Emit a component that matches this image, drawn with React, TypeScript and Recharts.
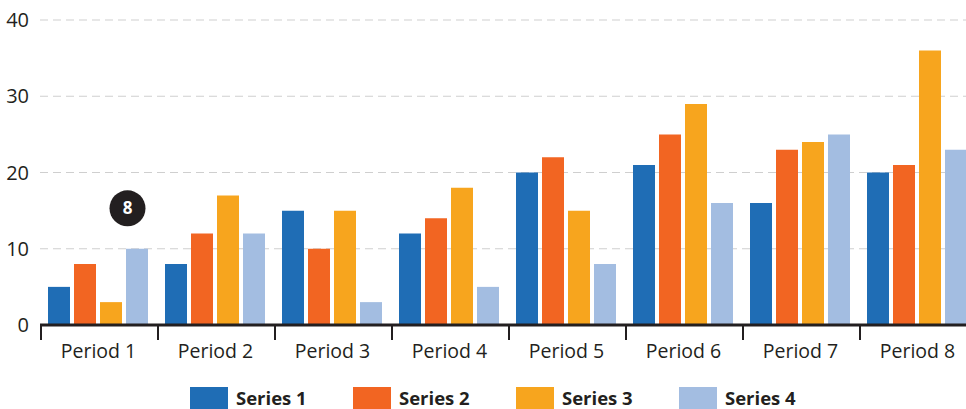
import React from "react";
import {
  BarChart,
  Bar,
  XAxis,
  YAxis,
  CartesianGrid,
  ReferenceDot,
} from "recharts";

const categories = [
  "Period 1",
  "Period 2",
  "Period 3",
  "Period 4",
  "Period 5",
  "Period 6",
  "Period 7",
  "Period 8",
];
const series1 = [5, 8, 15, 12, 20, 21, 16, 20];
const series2 = [8, 12, 10, 14, 22, 25, 23, 21];
const series3 = [3, 17, 15, 18, 15, 29, 24, 36];
const series4 = [10, 12, 3, 5, 8, 16, 25, 23];
const seriesNames = ["Series 1", "Series 2", "Series 3", "Series 4"];
const yTicks = [0, 10, 20, 30, 40];

// marker bubble over Period 1
const markerCategory = "Period 1";
const markerValue = 15.3;
const markerText = "8";

const COLORS = ["#1f6db5", "#f26522", "#f7a51e", "#a3bde1"];
const INK = "#231f20";
const FONT = "'Open Sans', sans-serif";

const CHART_W = 976;
const Y_W = 40;
const HALF_CAT = (CHART_W - Y_W) / categories.length / 2;

const data = categories.map((name, i) => ({
  name,
  s1: series1[i],
  s2: series2[i],
  s3: series3[i],
  s4: series4[i],
}));
const keys = ["s1", "s2", "s3", "s4"];

function PeriodTick(props: any) {
  const { x, y, payload } = props;
  return (
    <g>
      <line x1={x - HALF_CAT + 1} x2={x - HALF_CAT + 1} y1={y} y2={y + 15} stroke={INK} strokeWidth={2} />
      <text x={x} y={y + 33} textAnchor="middle" fontSize={19.5} fill={INK} fontFamily={FONT}>
        {payload.value}
      </text>
    </g>
  );
}

function MarkerBubble(props: any) {
  const { cx, cy } = props;
  const x = cx + 29;
  return (
    <g>
      <circle cx={x} cy={cy} r={18} fill={INK} />
      <text x={x} y={cy + 6} textAnchor="middle" fontSize={17} fontWeight="bold" fill="#fff" fontFamily={FONT}>
        {markerText}
      </text>
    </g>
  );
}

export default function App() {
  return (
    <div
      style={{
        position: "absolute",
        left: 0,
        top: 0,
        width: 966,
        height: 409,
        overflow: "hidden",
        background: "#fff",
      }}
    >
      <BarChart
        width={CHART_W}
        height={409}
        data={data}
        margin={{ top: 20, right: 0, left: 0, bottom: 54 }}
        barCategoryGap={8}
        barGap={4}
      >
        <CartesianGrid vertical={false} stroke="#cfcfcf" strokeDasharray="8 5" />
        <XAxis
          dataKey="name"
          height={30}
          axisLine={{ stroke: INK, strokeWidth: 3 }}
          tickLine={false}
          tickSize={0}
          tickMargin={0}
          interval={0}
          tick={<PeriodTick />}
        />
        <YAxis
          width={Y_W}
          domain={[0, 40]}
          ticks={yTicks}
          axisLine={false}
          tickLine={false}
          tickMargin={5}
          tick={{ fontSize: 20, fill: INK, fontFamily: FONT }}
        />
        {keys.map((k, i) => (
          <Bar key={k} dataKey={k} name={seriesNames[i]} fill={COLORS[i]} isAnimationActive={false} />
        ))}
        <ReferenceDot x={markerCategory} y={markerValue} r={18} shape={<MarkerBubble />} />
      </BarChart>
      <div
        style={{
          position: "absolute",
          left: 190,
          top: 387,
          display: "flex",
          fontFamily: FONT,
        }}
      >
        {seriesNames.map((n, i) => (
          <div key={n} style={{ width: 163, display: "flex", alignItems: "center" }}>
            <div style={{ width: 38, height: 22, background: COLORS[i], marginRight: 8 }} />
            <span style={{ fontSize: 18.5, fontWeight: 700, color: INK, lineHeight: "22px" }}>{n}</span>
          </div>
        ))}
      </div>
    </div>
  );
}
